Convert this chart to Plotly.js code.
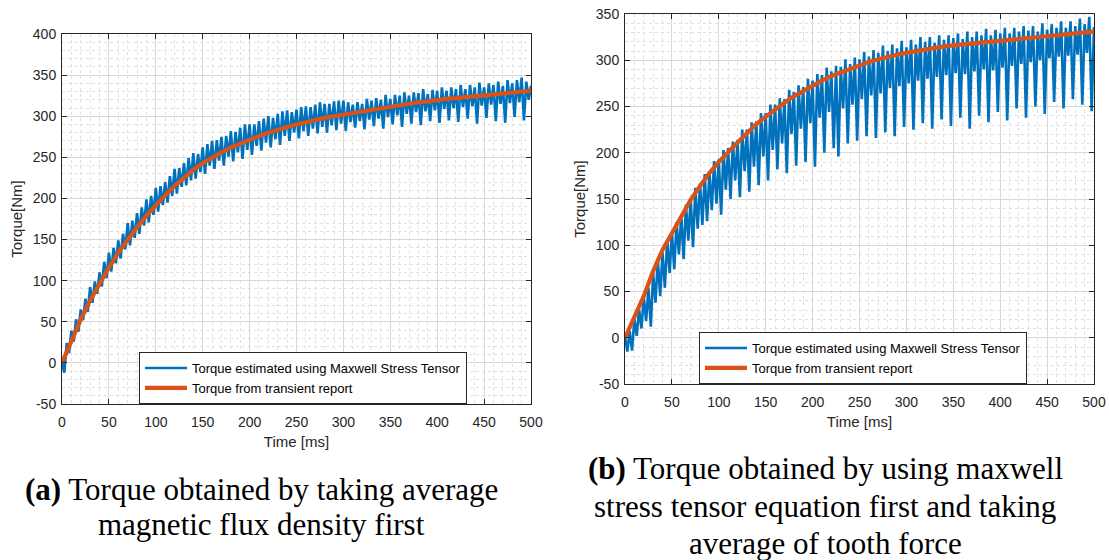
<!DOCTYPE html>
<html>
<head>
<meta charset="utf-8">
<script src="https://cdn.plot.ly/plotly-3.0.1.min.js"></script>
<style>html,body{margin:0;padding:0;background:#fff;}#chart{width:1109px;height:560px;}</style>
</head>
<body>
<div id="chart"></div>
<script>
// ---------- DATA ----------
const seriesNames = ['Torque estimated using Maxwell Stress Tensor', 'Torque from transient report'];
const xTickVals = [0, 50, 100, 150, 200, 250, 300, 350, 400, 450, 500];
const xTickText = ['0', '50', '100', '150', '200', '250', '300', '350', '400', '450', '500'];
const yTickValsA = [-50, 0, 50, 100, 150, 200, 250, 300, 350, 400];
const yTickTextA = ['-50', '0', '50', '100', '150', '200', '250', '300', '350', '400'];
const yTickValsB = [-50, 0, 50, 100, 150, 200, 250, 300, 350];
const yTickTextB = ['-50', '0', '50', '100', '150', '200', '250', '300', '350'];

// Panel (a): transient report torque, sampled every 10 ms (0..500)
const orangeA = [0, 27, 53, 76, 97, 116, 134, 150, 165, 179, 192, 204, 215, 225, 235, 243, 250, 256, 262, 267,
  271, 276, 280, 284, 287, 290, 293, 296, 298, 300, 302, 304, 306, 308, 310, 312, 314, 315, 317, 318,
  320, 321, 322, 323, 324, 325, 326, 327, 328, 329, 331];
// Panel (a): MST torque, peaks at 0,5,...,500 ms and troughs at 2.5,7.5,...,497.5 ms
const bluePeaksA = [0, 24, 39, 53, 65, 78, 92, 99, 110, 123, 134, 140, 149, 157, 170, 173, 182, 189, 199, 203,
  213, 215, 220, 227, 236, 237, 243, 249, 255, 254, 262, 266, 270, 271, 275, 276, 282, 281, 286, 290,
  290, 290, 294, 297, 300, 298, 303, 306, 307, 305, 308, 311, 312, 311, 314, 317, 315, 315, 318, 319,
  319, 317, 314, 317, 315, 321, 319, 322, 320, 326, 321, 326, 325, 329, 325, 329, 328, 333, 327, 332,
  331, 335, 331, 335, 333, 338, 333, 338, 335, 341, 335, 340, 338, 342, 337, 344, 340, 344, 347, 342, 337];
const blueTroughsA = [-12, 12, 26, 38, 52, 62, 73, 84, 93, 103, 111, 121, 127, 138, 143, 152, 157, 167, 171, 180,
  184, 192, 195, 203, 206, 214, 216, 222, 224, 232, 230, 240, 236, 246, 240, 251, 245, 256, 248, 259,
  253, 264, 258, 268, 262, 272, 265, 276, 270, 280, 273, 282, 276, 285, 279, 287, 280, 289, 283, 291,
  282, 293, 286, 294, 284, 296, 288, 297, 285, 299, 290, 301, 287, 303, 291, 305, 289, 306, 294, 307,
  292, 309, 295, 310, 293, 311, 297, 312, 291, 313, 298, 314, 294, 315, 292, 316, 299, 317, 295, 320];

// Panel (b): transient report torque, sampled every 10 ms (0..500)
const orangeB = [0, 22, 45, 72, 95, 113, 131, 149, 164, 178, 190, 201, 211, 221, 231, 239, 247, 254, 261, 267,
  273, 278, 283, 287, 291, 295, 298, 301, 304, 306, 308, 310, 312, 313, 315, 316, 317, 318, 319, 320,
  321, 322, 323, 323, 324, 325, 326, 327, 328, 329, 331];
// Panel (b): MST torque, peaks at 0,5,...,500 ms and troughs at 2.5,7.5,...,497.5 ms
const bluePeaksB = [2, 7, 20, 31, 44, 54, 70, 85, 92, 106, 114, 125, 133, 144, 151, 162, 167, 177, 180, 191,
  193, 203, 205, 212, 214, 225, 225, 233, 234, 243, 243, 252, 252, 259, 258, 268, 266, 273, 271, 280,
  278, 285, 284, 292, 288, 294, 293, 301, 296, 303, 301, 309, 304, 311, 308, 316, 310, 317, 313, 321,
  314, 322, 317, 325, 320, 325, 319, 327, 322, 327, 324, 329, 323, 331, 325, 331, 327, 334, 327, 333,
  329, 335, 329, 335, 331, 337, 332, 337, 331, 340, 333, 339, 335, 342, 335, 342, 337, 345, 339, 347, 336];
const blueTroughsB = [-15, -14, 2, 10, 18, 12, 38, 45, 54, 70, 74, 90, 85, 105, 98, 118, 122, 126, 138, 145,
  133, 160, 150, 170, 152, 180, 158, 185, 165, 196, 170, 203, 182, 210, 178, 220, 186, 226, 190, 232,
  185, 238, 200, 244, 205, 196, 248, 210, 252, 213, 258, 218, 262, 216, 264, 222, 270, 218, 272, 228,
  275, 225, 278, 232, 280, 226, 282, 236, 284, 229, 286, 238, 285, 226, 288, 240, 290, 233, 289, 244,
  292, 235, 294, 248, 296, 238, 298, 250, 300, 242, 302, 255, 304, 248, 305, 258, 306, 252, 308, 245];

// ---------- BUILD ----------
function zigzag(peaks, troughs) {
  const x = [], y = [];
  for (let i = 0; i < peaks.length; i++) {
    x.push(i * 5); y.push(peaks[i]);
    if (i < troughs.length) { x.push(i * 5 + 2.5); y.push(troughs[i]); }
  }
  return {x, y};
}
function grid10(vals) { return vals.map((v, i) => i * 10); }

const BLUE = '#0072BD', ORANGE = '#D95319', AX = '#262626';
const bA = zigzag(bluePeaksA, blueTroughsA);
const bB = zigzag(bluePeaksB, blueTroughsB);

const traces = [
  {x: bA.x, y: bA.y, type: 'scatter', mode: 'lines', name: seriesNames[0], line: {color: BLUE, width: 2.6}, xaxis: 'x', yaxis: 'y', legend: 'legend'},
  {x: grid10(orangeA), y: orangeA, type: 'scatter', mode: 'lines', name: seriesNames[1], line: {color: ORANGE, width: 4.2}, xaxis: 'x', yaxis: 'y', legend: 'legend'},
  {x: bB.x, y: bB.y, type: 'scatter', mode: 'lines', name: seriesNames[0], line: {color: BLUE, width: 2.6}, xaxis: 'x2', yaxis: 'y2', legend: 'legend2'},
  {x: grid10(orangeB), y: orangeB, type: 'scatter', mode: 'lines', name: seriesNames[1], line: {color: ORANGE, width: 4.2}, xaxis: 'x2', yaxis: 'y2', legend: 'legend2'}
];

const W = 1109, H = 560;
const tickFont = {family: 'Liberation Sans, Arial, sans-serif', size: 14, color: AX};
const titleFont = {family: 'Liberation Sans, Arial, sans-serif', size: 15, color: AX};
function xAx(d0, d1, anchor) {
  return {
    domain: [d0 / W, d1 / W], anchor: anchor, range: [0, 500], tickmode: 'array', tickvals: xTickVals, ticktext: xTickText,
    ticks: 'inside', ticklen: 5, tickcolor: AX, tickwidth: 1, showline: true, linecolor: AX, linewidth: 1, mirror: 'allticks',
    showgrid: true, gridcolor: '#d8d8d8', gridwidth: 1, zeroline: false, ticklabelstandoff: 5,
    minor: {tick0: 0, dtick: 10, showgrid: true, gridcolor: '#e0e0e0', griddash: 'dot', gridwidth: 1, ticks: ''},
    tickfont: tickFont, title: {text: 'Time [ms]', font: titleFont, standoff: 7}, fixedrange: true, automargin: false
  };
}
function yAx(d0, d1, anchor, range, tv, tt) {
  return {
    domain: [1 - d1 / H, 1 - d0 / H], anchor: anchor, range: range, tickmode: 'array', tickvals: tv, ticktext: tt,
    ticks: 'inside', ticklen: 5, tickcolor: AX, tickwidth: 1, showline: true, linecolor: AX, linewidth: 1, mirror: 'allticks',
    showgrid: true, gridcolor: '#d8d8d8', gridwidth: 1, zeroline: false, ticklabelstandoff: 2,
    minor: {tick0: 0, dtick: 10, showgrid: true, gridcolor: '#e0e0e0', griddash: 'dot', gridwidth: 1, ticks: ''},
    tickfont: tickFont, title: {text: 'Torque[Nm]', font: titleFont, standoff: 6}, fixedrange: true, automargin: false
  };
}
const legendStyle = {
  xanchor: 'left', yanchor: 'bottom', bgcolor: '#ffffff', bordercolor: AX, borderwidth: 1,
  font: {family: 'Liberation Sans, Arial, sans-serif', size: 13, color: '#000'},
  tracegroupgap: 0, itemwidth: 42, orientation: 'v'
};
const capFont = {family: 'Liberation Serif, Times New Roman, serif', size: 31, color: '#000'};
function cap(text, xc, yc) {
  return {text: text, x: xc / W, y: 1 - yc / H, xref: 'paper', yref: 'paper', xanchor: 'center', yanchor: 'middle', showarrow: false, font: capFont};
}

const layout = {
  width: W, height: H, margin: {l: 0, r: 0, t: 0, b: 0}, paper_bgcolor: '#fff', plot_bgcolor: '#fff',
  showlegend: true,
  xaxis: xAx(62, 531, 'y'),
  yaxis: yAx(34, 404, 'x', [-50, 400], yTickValsA, yTickTextA),
  xaxis2: xAx(625, 1094, 'y2'),
  yaxis2: yAx(14, 384, 'x2', [-50, 350], yTickValsB, yTickTextB),
  legend: Object.assign({x: 139 / W, y: 1 - 404 / H}, legendStyle),
  legend2: Object.assign({x: 699 / W, y: 1 - 384 / H}, legendStyle),
  annotations: [
    cap('<b>(a)</b> Torque obtained by taking average', 261, 489),
    cap('magnetic flux density first', 261, 524),
    cap('<b>(b)</b> Torque obtained by using maxwell', 825, 468),
    cap('stress tensor equation first and taking', 825, 506),
    cap('average of tooth force', 825, 543)
  ]
};

Plotly.newPlot('chart', traces, layout, {staticPlot: true, displayModeBar: false});
</script>
</body>
</html>
